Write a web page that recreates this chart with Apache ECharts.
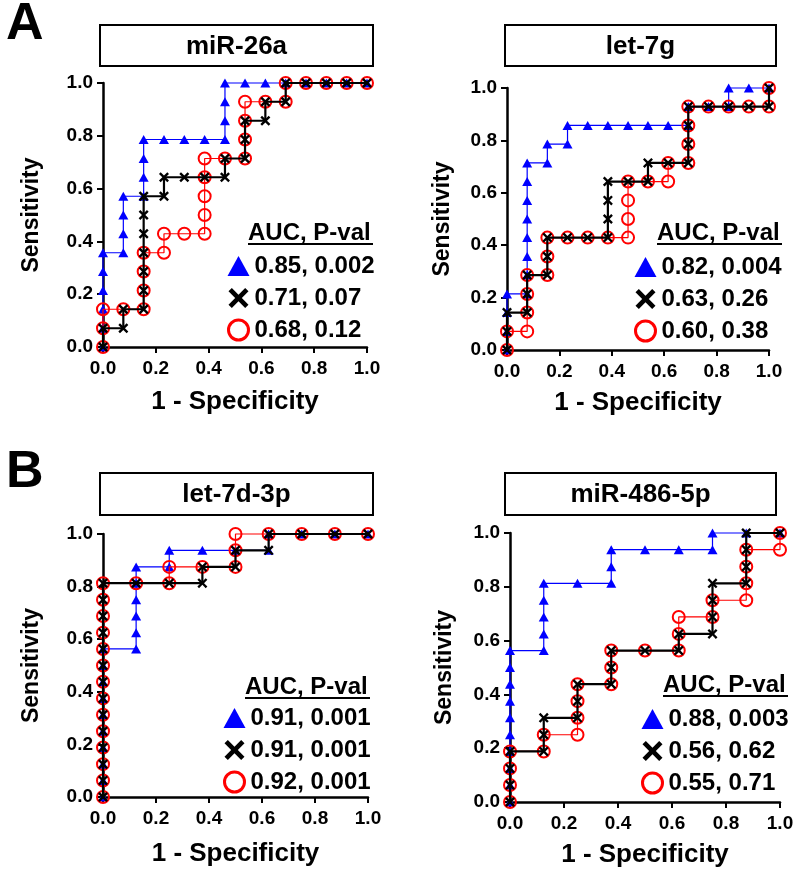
<!DOCTYPE html>
<html lang="en">
<head>
<meta charset="UTF-8">
<title>ROC curves</title>
<style>
html, body { margin: 0; padding: 0; background: #fff; }
#chart { width: 800px; height: 883px; }
</style>
</head>
<body>
<div id="chart"></div>
<script src="https://cdn.jsdelivr.net/npm/echarts@6/dist/echarts.min.js"></script>
<script>
// ROC points: [1 - specificity, sensitivity]
var miR26aBlue = [[0,0],[0,.071],[0,.143],[0,.214],[0,.286],[0,.357],[.077,.357],[.077,.429],[.077,.5],[.077,.571],[.154,.571],[.154,.643],[.154,.714],[.154,.786],[.231,.786],[.308,.786],[.385,.786],[.462,.786],[.462,.857],[.462,.929],[.462,1],[.538,1],[.615,1],[.692,1],[.769,1],[.846,1],[.923,1],[1,1]];
var miR26aBlack = [[0,0],[0,.071],[.077,.071],[.077,.143],[.154,.143],[.154,.214],[.154,.286],[.154,.357],[.154,.429],[.154,.5],[.154,.571],[.231,.571],[.231,.643],[.308,.643],[.385,.643],[.462,.643],[.462,.714],[.538,.714],[.538,.786],[.538,.857],[.615,.857],[.615,.929],[.692,.929],[.692,1],[.769,1],[.846,1],[.923,1],[1,1]];
var miR26aRed = [[0,0],[0,.071],[0,.143],[.077,.143],[.154,.143],[.154,.214],[.154,.286],[.154,.357],[.231,.357],[.231,.429],[.308,.429],[.385,.429],[.385,.5],[.385,.571],[.385,.643],[.385,.714],[.462,.714],[.538,.714],[.538,.786],[.538,.857],[.538,.929],[.615,.929],[.692,.929],[.692,1],[.769,1],[.846,1],[.923,1],[1,1]];

var let7gBlue = [[0,0],[0,.071],[0,.143],[0,.214],[.077,.214],[.077,.286],[.077,.357],[.077,.429],[.077,.5],[.077,.571],[.077,.643],[.077,.714],[.154,.714],[.154,.786],[.231,.786],[.231,.857],[.308,.857],[.385,.857],[.462,.857],[.538,.857],[.615,.857],[.692,.857],[.692,.929],[.769,.929],[.846,.929],[.846,1],[.923,1],[1,1]];
var let7gBlack = [[0,0],[0,.071],[0,.143],[.077,.143],[.077,.214],[.077,.286],[.154,.286],[.154,.357],[.154,.429],[.231,.429],[.308,.429],[.385,.429],[.385,.5],[.385,.571],[.385,.643],[.462,.643],[.538,.643],[.538,.714],[.615,.714],[.692,.714],[.692,.786],[.692,.857],[.692,.929],[.769,.929],[.846,.929],[.923,.929],[1,.929],[1,1]];
var let7gRed = [[0,0],[0,.071],[.077,.071],[.077,.143],[.077,.214],[.077,.286],[.154,.286],[.154,.357],[.154,.429],[.231,.429],[.308,.429],[.385,.429],[.462,.429],[.462,.5],[.462,.571],[.462,.643],[.538,.643],[.615,.643],[.615,.714],[.692,.714],[.692,.786],[.692,.857],[.692,.929],[.769,.929],[.846,.929],[.923,.929],[1,.929],[1,1]];

var let7d3pBlue = [[0,0],[0,.063],[0,.125],[0,.188],[0,.25],[0,.313],[0,.375],[0,.438],[0,.5],[0,.563],[.125,.563],[.125,.625],[.125,.688],[.125,.75],[.125,.813],[.125,.875],[.25,.875],[.25,.938],[.375,.938],[.5,.938],[.625,.938],[.625,1],[.75,1],[.875,1],[1,1]];
var let7d3pBlack = [[0,0],[0,.063],[0,.125],[0,.188],[0,.25],[0,.313],[0,.375],[0,.438],[0,.5],[0,.563],[0,.625],[0,.688],[0,.75],[0,.813],[.125,.813],[.25,.813],[.375,.813],[.375,.875],[.5,.875],[.5,.938],[.625,.938],[.625,1],[.75,1],[.875,1],[1,1]];
var let7d3pRed = [[0,0],[0,.063],[0,.125],[0,.188],[0,.25],[0,.313],[0,.375],[0,.438],[0,.5],[0,.563],[0,.625],[0,.688],[0,.75],[0,.813],[.125,.813],[.25,.813],[.25,.875],[.375,.875],[.5,.875],[.5,.938],[.5,1],[.625,1],[.75,1],[.875,1],[1,1]];

var miR486Blue = [[0,0],[0,.063],[0,.125],[0,.188],[0,.25],[0,.313],[0,.375],[0,.438],[0,.5],[0,.563],[.125,.563],[.125,.625],[.125,.688],[.125,.75],[.125,.813],[.25,.813],[.375,.813],[.375,.875],[.375,.938],[.5,.938],[.625,.938],[.75,.938],[.75,1],[.875,1],[1,1]];
var miR486Black = [[0,0],[0,.063],[0,.125],[0,.188],[.125,.188],[.125,.25],[.125,.313],[.25,.313],[.25,.375],[.25,.438],[.375,.438],[.375,.5],[.375,.563],[.5,.563],[.625,.563],[.625,.625],[.75,.625],[.75,.688],[.75,.75],[.75,.813],[.875,.813],[.875,.875],[.875,.938],[.875,1],[1,1]];
var miR486Red = [[0,0],[0,.063],[0,.125],[0,.188],[.125,.188],[.125,.25],[.25,.25],[.25,.313],[.25,.375],[.25,.438],[.375,.438],[.375,.5],[.375,.563],[.5,.563],[.625,.563],[.625,.625],[.625,.688],[.75,.688],[.75,.75],[.875,.75],[.875,.813],[.875,.875],[.875,.938],[1,.938],[1,1]];

// legend text: AUC, P-value (blue, black, red)
var miR26aLabels = ['0.85, 0.002', '0.71, 0.07', '0.68, 0.12'];
var let7gLabels = ['0.82, 0.004', '0.63, 0.26', '0.60, 0.38'];
var let7d3pLabels = ['0.91, 0.001', '0.91, 0.001', '0.92, 0.001'];
var miR486Labels = ['0.88, 0.003', '0.56, 0.62', '0.55, 0.71'];

var titles = ['miR-26a', 'let-7g', 'let-7d-3p', 'miR-486-5p'];

var FONT = '"Liberation Sans", Arial, Helvetica, sans-serif';
var XPATH = 'path://M0,2L2,0L6,4L10,0L12,2L8,6L12,10L10,12L6,8L2,12L0,10L4,6Z';

// layout of the four panels
var panels = [
	{ title: titles[0], data: [miR26aBlue, miR26aBlack, miR26aRed], labels: miR26aLabels,
	  grid: { left: 103, top: 83, width: 264, height: 264 }, xGap: 42, yGap: 60,
	  box: [100, 25, 273, 41], head: [248, 233], legend: [227, 254] },
	{ title: titles[1], data: [let7gBlue, let7gBlack, let7gRed], labels: let7gLabels,
	  grid: { left: 507, top: 88, width: 262, height: 262 }, xGap: 40, yGap: 53,
	  box: [505, 25, 271, 41], head: [657, 233], legend: [634, 255] },
	{ title: titles[2], data: [let7d3pBlue, let7d3pBlack, let7d3pRed], labels: let7d3pLabels,
	  grid: { left: 103, top: 534, width: 265, height: 263 }, xGap: 44, yGap: 60,
	  box: [100, 473, 273, 42], head: [245, 687], legend: [223, 706] },
	{ title: titles[3], data: [miR486Blue, miR486Black, miR486Red], labels: miR486Labels,
	  grid: { left: 510, top: 533, width: 270, height: 269 }, xGap: 40, yGap: 54,
	  box: [505, 473, 271, 42], head: [663, 685], legend: [641, 707] }
];

var looks = [
	{ key: 'blue', symbol: 'triangle', size: [10, 9], line: '#0000ff', fill: '#0000ff', width: 1.2, border: 0, z: 2 },
	{ key: 'black', symbol: XPATH, size: 10, line: '#000000', fill: '#000000', width: 2.2, border: 0, z: 4 },
	{ key: 'red', symbol: 'circle', size: 12, line: '#ff0000', fill: 'rgba(0,0,0,0)', width: 1.2, border: 2, z: 3 }
];

var labelMap = {};
var grids = [], xAxes = [], yAxes = [], series = [], legends = [], graphics = [];

panels.forEach(function (p, i) {
	grids.push(p.grid);
	var axisCommon = {
		type: 'value', min: 0, max: 1, interval: 0.2, gridIndex: i,
		nameLocation: 'middle',
		nameTextStyle: { fontFamily: FONT, fontWeight: 'bold', color: '#000' },
		splitLine: { show: false },
		axisLine: { show: true, lineStyle: { color: '#000', width: 2.5 } },
		axisTick: { show: true, length: 6, lineStyle: { color: '#000', width: 2 } },
		axisLabel: { color: '#000', fontFamily: FONT, fontWeight: 'bold', fontSize: 19,
			formatter: function (v) { return v.toFixed(1); } }
	};
	xAxes.push(echarts.util.merge({
		name: '1 - Specificity', nameGap: p.xGap,
		nameTextStyle: { fontSize: 26 }, axisLabel: { margin: 12 }
	}, axisCommon, false));
	yAxes.push(echarts.util.merge({
		name: 'Sensitivity', nameGap: p.yGap,
		nameTextStyle: { fontSize: 23 }, axisLabel: { margin: 10 }
	}, axisCommon, false));

	var legendData = [];
	looks.forEach(function (s, k) {
		var id = 'p' + i + '-' + s.key;
		labelMap[id] = p.labels[k];
		series.push({
			type: 'line', name: id, xAxisIndex: i, yAxisIndex: i,
			data: p.data[k], z: s.z, clip: false,
			symbol: s.symbol, symbolSize: s.size, showAllSymbol: true,
			lineStyle: { color: s.line, width: s.width },
			itemStyle: { color: s.fill, borderColor: s.line, borderWidth: s.border },
			emphasis: { disabled: true }
		});
		var ist = s.key === 'red'
			? { color: 'rgba(0,0,0,0)', borderColor: '#ff0000', borderWidth: 3 }
			: { color: s.fill, borderWidth: 0 };
		legendData.push({ name: id, icon: s.key === 'blue' ? 'triangle' : s.symbol, itemStyle: ist });
	});

	legends.push({
		orient: 'vertical', left: p.legend[0], top: p.legend[1], padding: 0,
		itemGap: 8, itemWidth: 22, itemHeight: 20, selectedMode: false,
		textStyle: { fontFamily: FONT, fontWeight: 'bold', fontSize: 24, color: '#000', lineHeight: 24 },
		formatter: function (n) { return labelMap[n]; },
		data: legendData
	});

	// title box
	graphics.push({
		type: 'rect', shape: { x: p.box[0], y: p.box[1], width: p.box[2], height: p.box[3] },
		style: { fill: '#fff', stroke: '#000', lineWidth: 2 }
	});
	graphics.push({
		type: 'text', x: p.box[0] + p.box[2] / 2, y: p.box[1] + p.box[3] / 2 + 1,
		style: { text: p.title, fill: '#000', font: 'bold 26px ' + FONT, align: 'center', verticalAlign: 'middle' }
	});
	// underlined legend heading
	graphics.push({
		type: 'text', x: p.head[0], y: p.head[1],
		style: { text: 'AUC, P-val', fill: '#000', font: 'bold 24px ' + FONT, align: 'left', verticalAlign: 'middle' }
	});
	graphics.push({
		type: 'line', shape: { x1: p.head[0], y1: p.head[1] + 11, x2: p.head[0] + 125, y2: p.head[1] + 11 },
		style: { stroke: '#000', lineWidth: 2 }
	});
});

graphics.push({ type: 'text', x: 6, y: 25, style: { text: 'A', fill: '#000', font: 'bold 52px ' + FONT, verticalAlign: 'middle' } });
graphics.push({ type: 'text', x: 6, y: 473, style: { text: 'B', fill: '#000', font: 'bold 52px ' + FONT, verticalAlign: 'middle' } });

var chart = echarts.init(document.getElementById('chart'));
chart.setOption({
	backgroundColor: '#fff',
	animation: false,
	grid: grids,
	xAxis: xAxes,
	yAxis: yAxes,
	legend: legends,
	series: series,
	graphic: graphics
});
</script>
</body>
</html>
